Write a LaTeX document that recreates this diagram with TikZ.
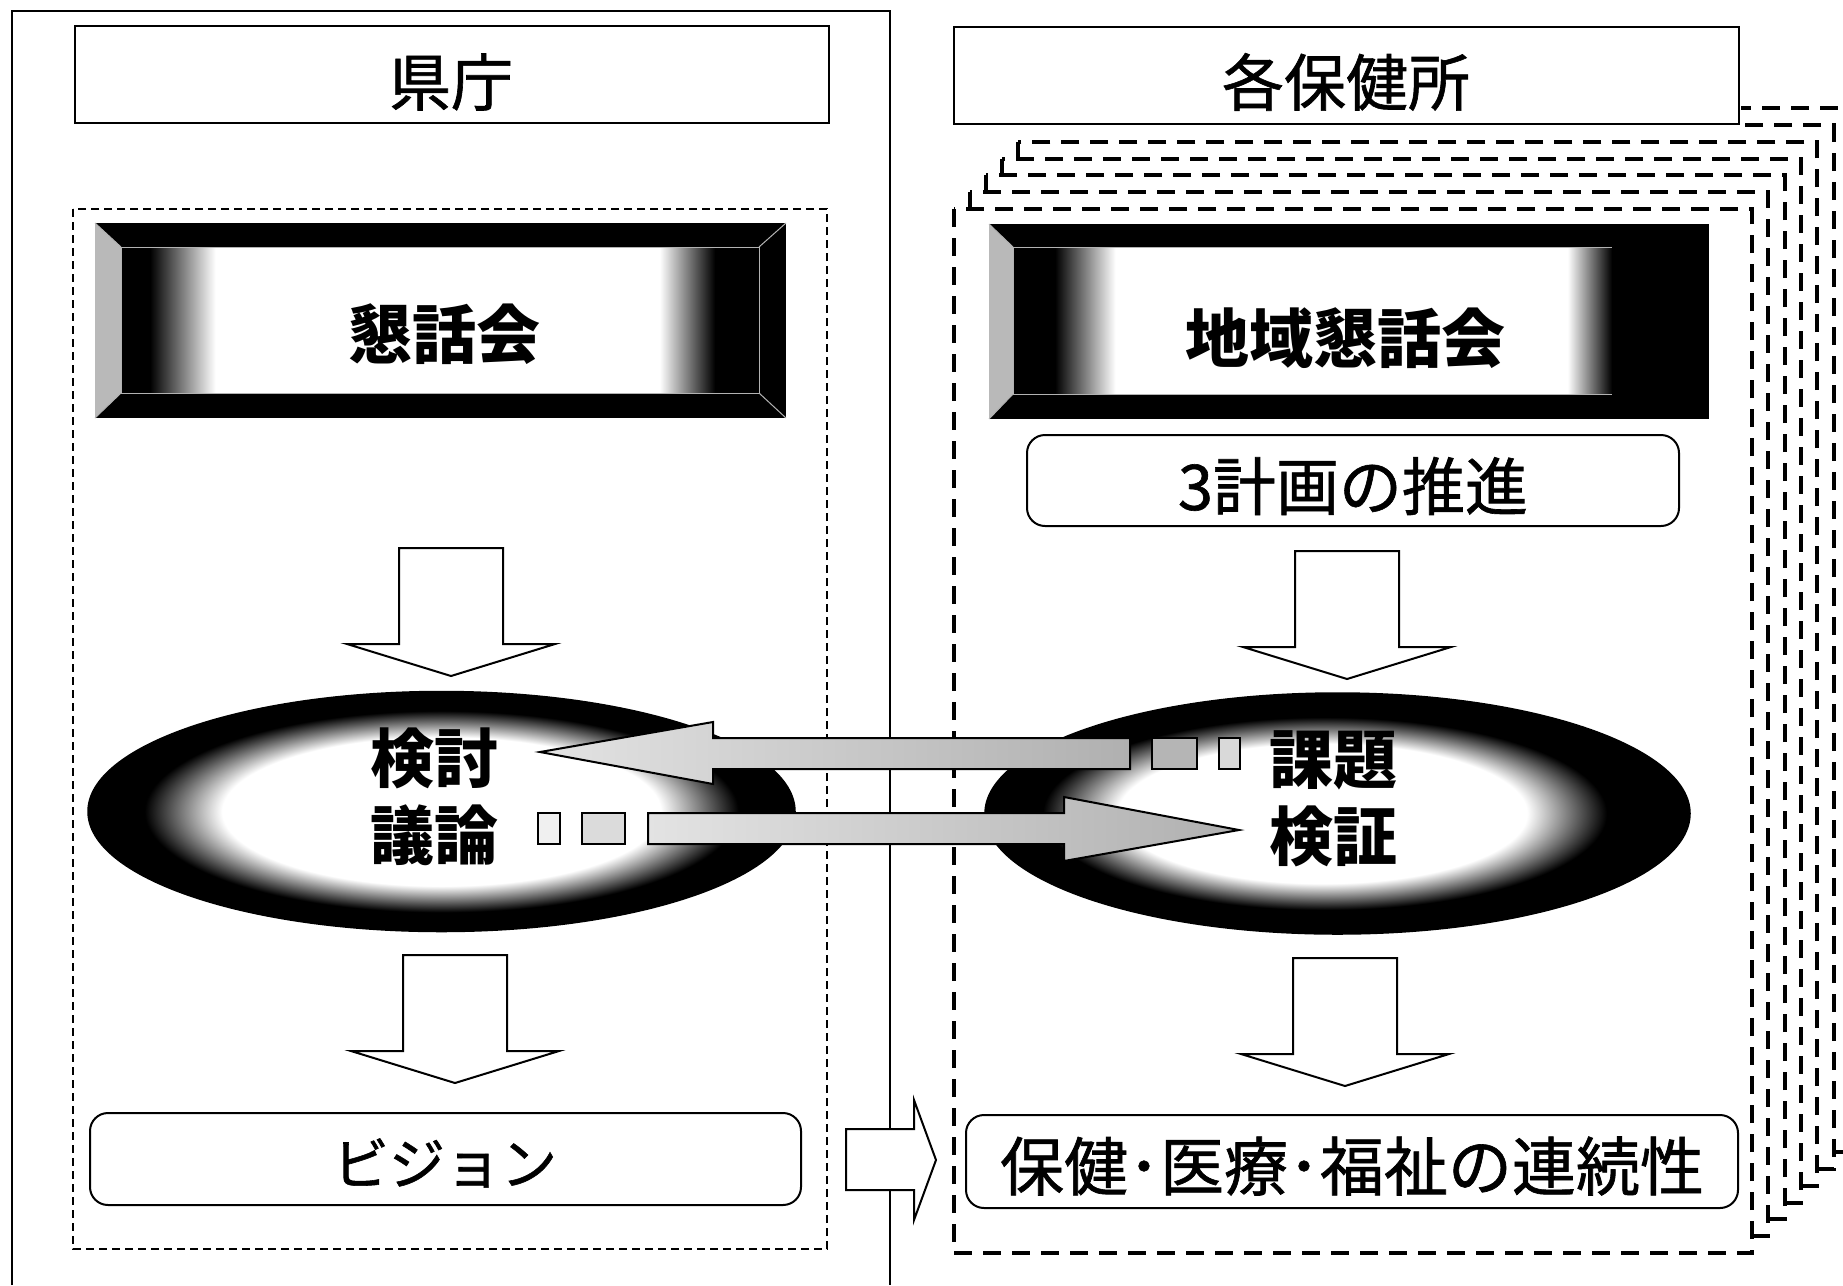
\documentclass[tikz,border=0pt]{standalone}
\usepackage{fontspec}
\newfontfamily\jp{Noto Sans CJK JP}
\newfontfamily\jpm{Noto Sans CJK JP}[FakeBold=1]
\usetikzlibrary{shapes.geometric}
\newcommand{\jpsize}[1]{\fontsize{#1}{#1}\selectfont}
\pgfdeclareradialshading{ellL}{\pgfpoint{0bp}{0bp}}{color(0bp)=(white); color(15.5bp)=(white); color(21bp)=(black); color(50bp)=(black)}
\pgfdeclareradialshading{ellR}{\pgfpoint{-1.5bp}{0bp}}{color(0bp)=(white); color(14.5bp)=(white); color(20bp)=(black); color(50bp)=(black)}
\tikzset{
  hdrbox/.style={draw, line width=2pt, fill=white, inner sep=0pt, outer sep=0pt},
  rbox/.style={draw, line width=2pt, fill=white, rounded corners=18pt, inner sep=0pt, outer sep=0pt},
  stackdash/.style={draw, line width=4pt, dash pattern=on 18pt off 11pt, fill=white},
  leftdash/.style={draw, line width=2pt, dash pattern=on 8pt off 5pt},
  blockarrow/.style={draw, line width=2pt, fill=white, line join=miter},
  greyarrow/.style={draw, line width=2pt, left color=gray!22, right color=gray!62, line join=miter},
  greybox/.style={draw, line width=2pt},
  txtreg/.style={inner sep=0pt, font=\jpm\jpsize{62}},
  txtbold/.style={inner sep=0pt, font=\jp\bfseries\jpsize{64}},
  txtpair/.style={inner sep=0pt, align=center, font=\jp\bfseries\fontsize{64}{77}\selectfont},
  ellnode/.style={ellipse, draw, line width=1.5pt, inner sep=0pt, outer sep=0pt, minimum width=707pt, minimum height=240pt},
  downarrow/.pic={\draw[blockarrow] (-52,0) -- (52,0) -- (52,96) -- (104,96) -- (0,128) -- (-104,96) -- (-52,96) -- cycle;}
}
\begin{document}
\begin{tikzpicture}[x=1pt,y=-1pt]
\useasboundingbox (0,0) rectangle (1843,1285);
\fill[white] (0,0) rectangle (1843,1285);

% stacked dashed frames (back to front); the two rearmost show only right of the header
\begin{scope}
  \clip (1741,0) rectangle (1843,1285);
  \foreach \k in {6,5}{
    \draw[stackdash] ({954+16*\k},{209-16.8*\k}) rectangle ({1752+16.3*\k},{1253-16.8*\k});
  }
\end{scope}
\foreach \k in {4,3,2,1,0}{
  \draw[stackdash] ({954+16*\k},{209-16.8*\k}) rectangle ({1752+16.3*\k},{1253-16.8*\k});
}

% left outer frame
\draw[line width=1.5pt] (12,1285) -- (12,11) -- (890,11) -- (890,1285);

% headers
\node[hdrbox, minimum width=754pt, minimum height=97pt] (ken) at (452,74.5) {};
\node[txtreg] (kentxt) at (451,82) {県庁};
\node[hdrbox, minimum width=785pt, minimum height=97pt] (hok) at (1346.5,75.5) {};
\node[txtreg] (hoktxt) at (1346,82) {各保健所};

% left dashed frame
\draw[leftdash] (73,209) rectangle (827,1249);

% left bevel box
\fill[black] (95,223) rectangle (786,418);
\fill[gray!55] (95,223) -- (121,247) -- (121,393) -- (95,418) -- cycle;
\fill[white] (215,247) rectangle (660,393);
\shade[left color=black, right color=white] (150,247) rectangle (215.5,393);
\shade[left color=white, right color=black] (659.5,247) rectangle (715,393);
\draw[gray!60, line width=1pt] (121,247) rectangle (759,393);
\draw[gray!60, line width=1pt] (95,223) -- (121,247) (786,223) -- (759,247) (95,418) -- (121,393) (786,418) -- (759,393);
\node[txtbold] (kon) at (444,334) {懇話会};

% right bevel box
\fill[black] (989,224) rectangle (1709,419);
\fill[gray!55] (989,224) -- (1013,247) -- (1013,394) -- (989,419) -- cycle;
\fill[white] (1115,247) rectangle (1568,394);
\shade[left color=black, right color=white] (1055,247) rectangle (1115.5,394);
\shade[left color=white, right color=black] (1567.5,247) rectangle (1612,394);
\draw[gray!60, line width=1pt] (1013,394) -- (1013,247) -- (1612,247) (1013,394) -- (1612,394);
\draw[gray!60, line width=1pt] (989,224) -- (1013,247) (989,419) -- (1013,394);
\node[txtbold] (chiiki) at (1345,338) {地域懇話会};

% 3 plans box
\node[rbox, minimum width=652pt, minimum height=91pt] (keikaku) at (1353,480.5) {};
\node[txtreg, font=\jpm\jpsize{63}] (keikakutxt) at (1353,486) {3計画の推進};

% down arrows
\pic at (451,548) {downarrow};
\pic at (1347,551) {downarrow};
\pic at (455,955) {downarrow};
\pic at (1345,958) {downarrow};

% ellipses
\node[ellnode, shade, shading=ellL] (elL) at (441.5,811.5) {};
\node[ellnode, shade, shading=ellR, minimum width=705pt, minimum height=241pt] (elR) at (1337.5,813.5) {};
\node[txtpair] (kento) at (434,796.5) {検討\\議論};
\node[txtpair] (kadai) at (1333,799) {課題\\検証};

% grey double arrows
\shade[greyarrow] (540,752) -- (713,722) -- (713,738) -- (1130,738) -- (1130,769) -- (713,769) -- (713,784) -- cycle;
\draw[greybox, fill=gray!58] (1152,738) rectangle (1197,769);
\draw[greybox, fill=gray!30] (1219,738) rectangle (1240,769);
\shade[greyarrow] (648,813) -- (1064,813) -- (1064,797) -- (1239,830) -- (1064,861) -- (1064,844) -- (648,844) -- cycle;
\draw[greybox, fill=gray!12] (538,813) rectangle (560,844);
\draw[greybox, fill=gray!28] (582,813) rectangle (625,844);

% bottom boxes
\node[rbox, minimum width=711pt, minimum height=92pt] (vision) at (445.5,1159) {};
\node[txtreg, font=\jpm\jpsize{56}] (visiontxt) at (445,1163) {ビジョン};
\node[rbox, minimum width=772pt, minimum height=93pt] (renzoku) at (1352,1161.5) {};
\node[txtreg, font=\jpm\jpsize{64}] (renzokutxt) at (1352,1166) {保健･医療･福祉の連続性};

% right block arrow
\draw[blockarrow] (846,1129) -- (914,1129) -- (914,1100) -- (936,1160) -- (914,1220) -- (914,1190) -- (846,1190) -- cycle;
\end{tikzpicture}
\end{document}
